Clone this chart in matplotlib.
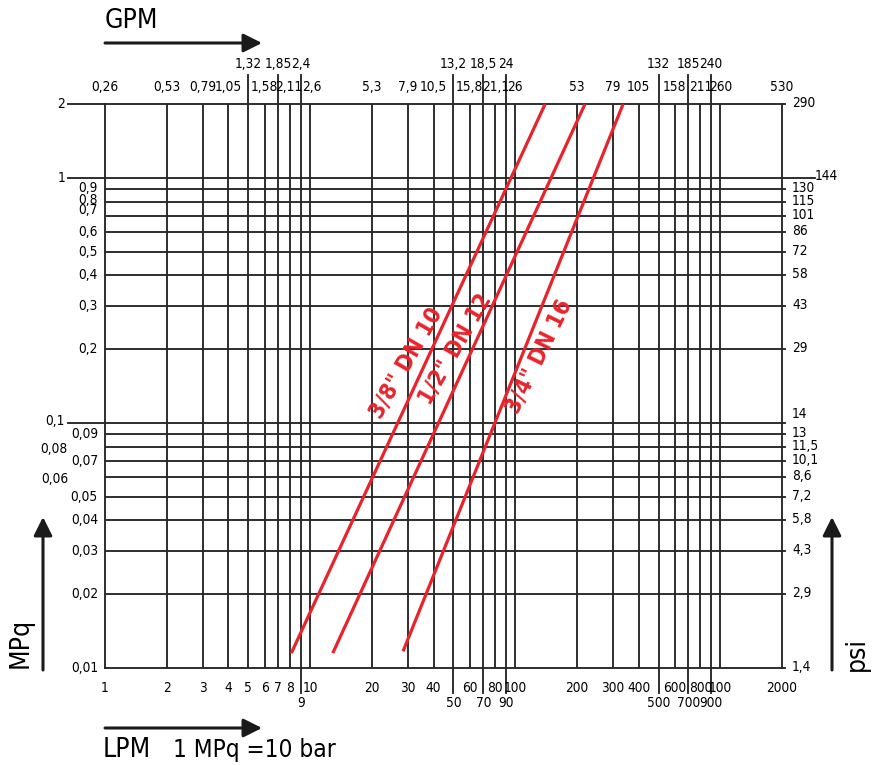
import os
import matplotlib
matplotlib.use('Agg')
import matplotlib.pyplot as plt
import matplotlib.transforms as mtransforms
from matplotlib import font_manager as fm

# ---------- pick a narrow / condensed font if one is installed ----------
_files = fm.findSystemFonts()


def _find(names):
    for k in names:
        for f in _files:
            if os.path.basename(f).lower() == k:
                return f
    return None


narrow_file = _find(['liberationsansnarrow-regular.ttf', 'dejavusanscondensed.ttf',
                     'robotocondensed-regular.ttf', 'roboto_condensed-regular.ttf'])
narrow_bold_file = _find(['liberationsansnarrow-bold.ttf', 'dejavusanscondensed-bold.ttf',
                          'robotocondensed-bold.ttf', 'roboto_condensed-bold.ttf'])
FS = 9.8
if narrow_file:
    fm.fontManager.addfont(narrow_file)
    NARROW = fm.FontProperties(fname=narrow_file).get_name()
    plt.rcParams['font.family'] = [NARROW, 'DejaVu Sans']
    if 'condensed' in os.path.basename(narrow_file).lower():
        plt.rcParams['font.stretch'] = 'condensed'
else:
    plt.rcParams['font.family'] = ['DejaVu Sans']
    FS = 8.5
if narrow_bold_file:
    fm.fontManager.addfont(narrow_bold_file)
    BOLD_PROP = fm.FontProperties(fname=narrow_bold_file, size=16.5)
else:
    BOLD_PROP = fm.FontProperties(family='DejaVu Sans', weight='bold', size=15)

# ---------------- data ----------------
lpm_ticks = [1, 2, 3, 4, 5, 6, 7, 8, 9, 10, 20, 30, 40, 50, 60, 70, 80, 90,
             100, 200, 300, 400, 500, 600, 700, 800, 900, 1000, 2000]
lpm_labels = ['1', '2', '3', '4', '5', '6', '7', '8', '9', '10', '20', '30', '40', '50',
              '60', '70', '80', '90', '100', '200', '300', '400', '500', '600', '700',
              '800', '900', '100', '2000']
gpm_labels = ['0,26', '0,53', '0,79', '1,05', '1,32', '1,58', '1,85', '2,11', '2,4', '2,6',
              '5,3', '7,9', '10,5', '13,2', '15,8', '18,5', '21,1', '24', '26', '53', '79',
              '105', '132', '158', '185', '211', '240', '260', '530']
bottom_lower_row = [9, 50, 70, 90, 500, 700, 900]
top_upper_row = [5, 7, 9, 50, 70, 90, 500, 700, 900]

mpa_ticks = [0.01, 0.02, 0.03, 0.04, 0.05, 0.06, 0.07, 0.08, 0.09,
             0.1, 0.2, 0.3, 0.4, 0.5, 0.6, 0.7, 0.8, 0.9, 1, 2]
mpa_labels = ['0,01', '0,02', '0,03', '0,04', '0,05', '0,06', '0,07', '0,08', '0,09',
              '0,1', '0,2', '0,3', '0,4', '0,5', '0,6', '0,7', '0,8', '0,9', '1', '2']
psi_labels = ['1,4', '2,9', '4,3', '5,8', '7,2', '8,6', '10,1', '11,5', '13',
              '14', '29', '43', '58', '72', '86', '101', '115', '130', '144', '290']
left_long = [0.1, 1, 2]
left_shifted = [0.06, 0.08]

series_names = ['3/8" DN 10', '1/2" DN 12', '3/4" DN 16']
dn10_q = [8.1, 140]
dn10_p = [0.0115, 2.0]
dn12_q = [12.9, 219]
dn12_p = [0.0115, 2.0]
dn16_q = [28.4, 336]
dn16_p = [0.0117, 2.0]

# ---------------- style ----------------
GRID = '#262626'
RED = '#e8232b'
LW = 1.35
W, H = 677.0, 564.0

fig = plt.figure(figsize=(8.79, 7.65), dpi=100)
ax = fig.add_axes([105 / 879, 97 / 765, W / 879, H / 765])
ax.set_xscale('log')
ax.set_yscale('log')
ax.set_xlim(1, 2000)
ax.set_ylim(0.01, 2)
ax.tick_params(which='both', length=0, labelbottom=False, labelleft=False)
ax.set_xticks([])
ax.set_yticks([])
ax.minorticks_off()
for s in ax.spines.values():
    s.set_color(GRID)
    s.set_linewidth(LW)

tx = mtransforms.blended_transform_factory(ax.transData, ax.transAxes)
ty = mtransforms.blended_transform_factory(ax.transAxes, ax.transData)

# grid
for v in lpm_ticks[1:-1]:
    ax.axvline(v, color=GRID, lw=LW, zorder=1)
for v in mpa_ticks[1:-1]:
    ax.axhline(v, color=GRID, lw=LW, zorder=1)

# top / bottom long ticks and labels
top_dx = {8: -2, 10: 2}
for v, lab_l, lab_g in zip(lpm_ticks, lpm_labels, gpm_labels):
    if v in top_upper_row:
        ax.plot([v, v], [1, 1 + 29 / H], transform=tx, color=GRID, lw=LW, clip_on=False)
        ax.annotate(lab_g, xy=(v, 1), xycoords=tx, xytext=(0, 40), textcoords='offset pixels',
                    ha='center', va='center', fontsize=FS)
    else:
        ax.annotate(lab_g, xy=(v, 1), xycoords=tx, xytext=(top_dx.get(v, 0), 17),
                    textcoords='offset pixels', ha='center', va='center', fontsize=FS)
    if v in bottom_lower_row:
        ax.plot([v, v], [0, -25 / H], transform=tx, color=GRID, lw=LW, clip_on=False)
        ax.annotate(lab_l, xy=(v, 0), xycoords=tx, xytext=(0, -35), textcoords='offset pixels',
                    ha='center', va='center', fontsize=FS)
    else:
        ax.annotate(lab_l, xy=(v, 0), xycoords=tx, xytext=(0, -20), textcoords='offset pixels',
                    ha='center', va='center', fontsize=FS)

# left / right labels
left_dy = {0.7: 6, 0.8: 2, 0.9: 1, 0.1: 2}
right_dy = {0.1: 9}
for v, lm, lp in zip(mpa_ticks, mpa_labels, psi_labels):
    if v in left_long:
        ax.plot([0, -37 / W], [v, v], transform=ty, color=GRID, lw=LW, clip_on=False)
        ax.annotate(lm, xy=(0, v), xycoords=ty, xytext=(-40, left_dy.get(v, 0)),
                    textcoords='offset pixels', ha='right', va='center', fontsize=FS)
    elif v in left_shifted:
        ax.annotate(lm, xy=(0, v), xycoords=ty, xytext=(-37, -2), textcoords='offset pixels',
                    ha='right', va='center', fontsize=FS)
    else:
        ax.annotate(lm, xy=(0, v), xycoords=ty, xytext=(-7, left_dy.get(v, 0)),
                    textcoords='offset pixels', ha='right', va='center', fontsize=FS)
    if v == 1:
        ax.plot([1, 1 + 33 / W], [v, v], transform=ty, color=GRID, lw=LW, clip_on=False)
        ax.annotate(lp, xy=(1, v), xycoords=ty, xytext=(33, 2), textcoords='offset pixels',
                    ha='left', va='center', fontsize=FS)
    else:
        ax.plot([1, 1 + 3 / W], [v, v], transform=ty, color=GRID, lw=LW, clip_on=False)
        ax.annotate(lp, xy=(1, v), xycoords=ty, xytext=(10, right_dy.get(v, 1)),
                    textcoords='offset pixels', ha='left', va='center', fontsize=FS)

# red characteristic lines
for q, p in [(dn10_q, dn10_p), (dn12_q, dn12_p), (dn16_q, dn16_p)]:
    ax.plot(q, p, color=RED, lw=2.3, solid_capstyle='butt', zorder=3, clip_on=False)

label_pos = [(29.7, 0.176, 60), (51.5, 0.199, 60), (131, 0.186, 64)]
for name, (x, y, rot) in zip(series_names, label_pos):
    ax.text(x, y, name, rotation=rot, rotation_mode='anchor', ha='center', va='center',
            color=RED, fontproperties=BOLD_PROP, zorder=4)

# arrows and axis titles (figure pixel coordinates, origin bottom-left)
arrow_kw = dict(arrowstyle='-|>', lw=2.2, color='#1a1a1a', mutation_scale=28,
                shrinkA=0, shrinkB=0)
fig.add_artist(matplotlib.patches.FancyArrowPatch((105, 765 - 43), (262, 765 - 43),
                                                  transform=None, **arrow_kw))
fig.add_artist(matplotlib.patches.FancyArrowPatch((105, 765 - 728), (262, 765 - 728),
                                                  transform=None, **arrow_kw))
fig.add_artist(matplotlib.patches.FancyArrowPatch((43, 765 - 670), (43, 765 - 517),
                                                  transform=None, **arrow_kw))
fig.add_artist(matplotlib.patches.FancyArrowPatch((832, 765 - 670), (832, 765 - 517),
                                                  transform=None, **arrow_kw))

TFS = 19 if narrow_file else 16
fig.text(105 / 879, 1 - 21 / 765, 'GPM', ha='left', va='center', fontsize=TFS)
fig.text(103 / 879, 1 - 750 / 765, 'LPM', ha='left', va='center', fontsize=TFS)
fig.text(173 / 879, 1 - 750 / 765, '1 MPq =10 bar', ha='left', va='center', fontsize=TFS - 1.5)
fig.text(21 / 879, 1 - 643 / 765, 'MPq', ha='center', va='center', fontsize=TFS, rotation=90)
fig.text(857 / 879, 1 - 654 / 765, 'psi', ha='center', va='center', fontsize=TFS, rotation=90)

fig.savefig('out.png', dpi=100)
